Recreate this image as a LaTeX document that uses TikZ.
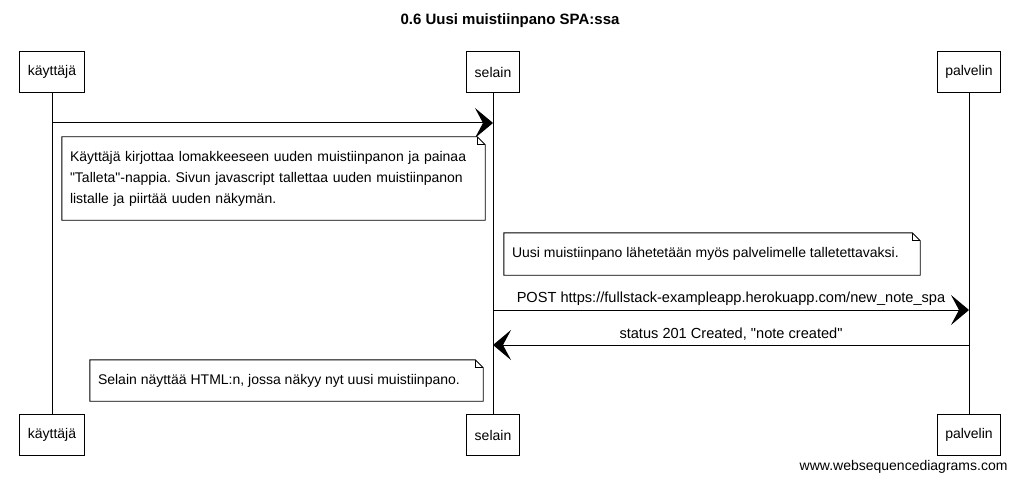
\documentclass[tikz,border=0pt]{standalone}
\usepackage{fontspec}
\setmainfont{Liberation Sans}[Ligatures=TeXOff]
\usetikzlibrary{arrows.meta,calc}
\frenchspacing
\begin{document}
\begin{tikzpicture}[x=1pt,y=-1pt,
  every node/.style={font=\fontsize{14}{21}\selectfont},
  actor/.style={draw,line width=0.9pt,minimum height=41pt,inner xsep=8pt,fill=white},
  life/.style={line width=0.9pt},
  msg/.style={line width=1pt,-{Stealth[length=18pt,width=30pt,inset=8pt]}},
  msglabel/.style={above=1pt,font=\fontsize{14.6}{17}\selectfont},
  notebox/.style={inner xsep=8pt,inner ysep=0pt,align=left}]
\useasboundingbox (0,0) rectangle (1019,481);
\node[font=\fontsize{15}{17}\selectfont\bfseries] (title) at (510,21) {0.6 Uusi muistiinpano SPA:ssa};

\node[actor] (k1) at (52,72) {käyttäjä};
\node[actor] (s1) at (493,72) {selain};
\node[actor] (p1) at (969,72) {palvelin};
\node[actor] (k2) at (52,435) {käyttäjä};
\node[actor] (s2) at (493,435) {selain};
\node[actor] (p2) at (969,435) {palvelin};

\draw[life] (k1) -- (k2);
\draw[life] (s1) -- (s2);
\draw[life] (p1) -- (p2);

\coordinate (a1s) at (52,123);
\coordinate (a1e) at (493,123);
\draw[msg] (a1s) -- (a1e);

% notes (frames)
\node[minimum width=423pt,minimum height=83pt,inner sep=0pt] (n1) at (273.5,178.5) {};
\node[minimum width=416pt,minimum height=42pt,inner sep=0pt] (n2) at (712,254) {};
\node[minimum width=393pt,minimum height=41pt,inner sep=0pt] (n3) at (286.5,380.5) {};

\foreach \n in {n1,n2,n3}{
  \draw[line width=0.9pt,fill=white] (\n.north west) -- ($(\n.north east)+(-8,0)$) -- ($(\n.north east)+(0,8)$) -- (\n.south east) -- (\n.south west) -- cycle;
  \draw[line width=0.7pt] ($(\n.north east)+(-8,0)$) -- ($(\n.north east)+(-8,8)$) -- ($(\n.north east)+(0,8)$);
}
\node[notebox,anchor=west,text width=412pt] (t1) at (n1.west) {Käyttäjä kirjottaa lomakkeeseen uuden muistiinpanon ja painaa\\"Talleta"-nappia. Sivun javascript tallettaa uuden muistiinpanon\\listalle ja piirtää uuden näkymän.};
\node[notebox,anchor=west] (t2) at (n2.west) {Uusi muistiinpano lähetetään myös palvelimelle talletettavaksi.};
\node[notebox,anchor=west] (t3) at (n3.west) {Selain näyttää HTML:n, jossa näkyy nyt uusi muistiinpano.};

\coordinate (a2s) at (493,310);
\coordinate (a2e) at (969,310);
\draw[msg] (a2s) -- node[msglabel] {POST https://fullstack-exampleapp.herokuapp.com/new\_note\_spa} (a2e);
\coordinate (a3s) at (969,345);
\coordinate (a3e) at (493,345);
\draw[msg] (a3s) -- node[msglabel] {status 201 Created, "note created"} (a3e);

\node[anchor=east] (wm) at (1011,467) {www.websequencediagrams.com};
\end{tikzpicture}
\end{document}
